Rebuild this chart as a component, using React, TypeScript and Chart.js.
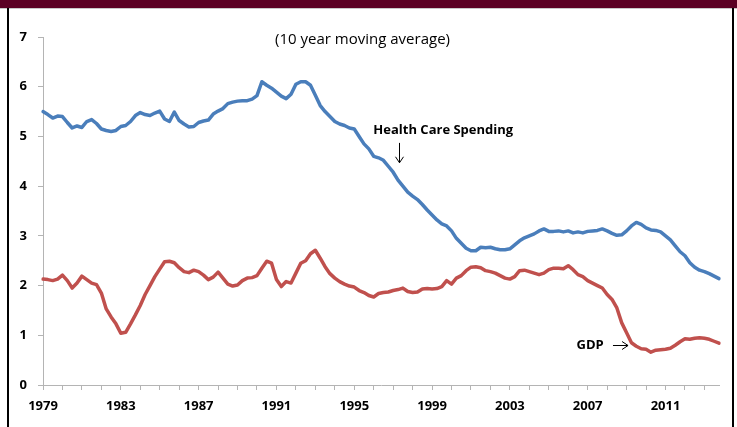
import React, { useEffect, useRef } from 'react';
import { Chart, registerables } from 'chart.js';

Chart.register(...registerables);

const START_YEAR = 1979;
const END_YEAR = 2013;
const CATEGORIES: string[] = [];
for (let y = START_YEAR; y <= END_YEAR; y++) {
  for (let q = 1; q <= 4; q++) CATEGORIES.push(`${y}Q${q}`);
}

const TICK_LABELS = ['1979', '1983', '1987', '1991', '1995', '1999', '2003', '2007', '2011'];
const Y_TICKS = [0, 1, 2, 3, 4, 5, 6, 7];

const HEALTH_CARE = [
  5.50, 5.44, 5.37, 5.41, 5.40, 5.28, 5.17, 5.21, 5.18, 5.30,
  5.34, 5.26, 5.15, 5.12, 5.10, 5.12, 5.20, 5.22, 5.30, 5.42,
  5.48, 5.44, 5.42, 5.47, 5.51, 5.35, 5.30, 5.49, 5.32, 5.25,
  5.19, 5.20, 5.28, 5.31, 5.33, 5.45, 5.51, 5.56, 5.66, 5.69,
  5.71, 5.72, 5.72, 5.75, 5.82, 6.10, 6.03, 5.97, 5.89, 5.81,
  5.76, 5.85, 6.05, 6.10, 6.10, 6.03, 5.83, 5.62, 5.50, 5.40,
  5.30, 5.25, 5.22, 5.17, 5.15, 5.00, 4.85, 4.75, 4.60, 4.57,
  4.52, 4.40, 4.28, 4.12, 4.00, 3.88, 3.80, 3.73, 3.63, 3.52,
  3.42, 3.32, 3.24, 3.20, 3.10, 2.95, 2.85, 2.75, 2.70, 2.70,
  2.77, 2.76, 2.77, 2.74, 2.72, 2.72, 2.74, 2.82, 2.90, 2.96,
  3.00, 3.04, 3.10, 3.14, 3.09, 3.09, 3.10, 3.08, 3.10, 3.06,
  3.08, 3.06, 3.09, 3.10, 3.11, 3.14, 3.10, 3.05, 3.01, 3.02,
  3.10, 3.20, 3.27, 3.23, 3.16, 3.12, 3.11, 3.08, 3.00, 2.92,
  2.80, 2.68, 2.60, 2.46, 2.37, 2.31, 2.28, 2.24, 2.19, 2.14,
];

const GDP = [
  2.13, 2.12, 2.10, 2.13, 2.21, 2.10, 1.95, 2.05, 2.19, 2.12,
  2.05, 2.02, 1.85, 1.53, 1.37, 1.23, 1.04, 1.06, 1.23, 1.41,
  1.60, 1.82, 2.00, 2.18, 2.33, 2.48, 2.49, 2.46, 2.36, 2.28,
  2.26, 2.31, 2.28, 2.21, 2.12, 2.17, 2.27, 2.15, 2.03, 1.99,
  2.01, 2.10, 2.15, 2.16, 2.20, 2.35, 2.49, 2.45, 2.12, 1.98,
  2.08, 2.05, 2.25, 2.45, 2.50, 2.64, 2.71, 2.55, 2.38, 2.24,
  2.15, 2.08, 2.03, 1.99, 1.97, 1.90, 1.86, 1.80, 1.77, 1.84,
  1.86, 1.87, 1.90, 1.92, 1.95, 1.88, 1.86, 1.87, 1.93, 1.94,
  1.93, 1.94, 1.98, 2.10, 2.03, 2.15, 2.20, 2.30, 2.37, 2.38,
  2.36, 2.30, 2.28, 2.25, 2.20, 2.15, 2.13, 2.18, 2.30, 2.31,
  2.28, 2.25, 2.22, 2.25, 2.32, 2.35, 2.35, 2.34, 2.40, 2.32,
  2.22, 2.18, 2.10, 2.05, 2.00, 1.95, 1.82, 1.72, 1.55, 1.25,
  1.05, 0.85, 0.78, 0.73, 0.72, 0.66, 0.70, 0.71, 0.72, 0.74,
  0.80, 0.87, 0.93, 0.92, 0.94, 0.95, 0.94, 0.92, 0.88, 0.84,
];

const SUBTITLE = '(10 year moving average)';
const HEALTH_LABEL = 'Health Care Spending';
const GDP_LABEL = 'GDP';

const FONT = "'Open Sans', 'Liberation Sans', sans-serif";
const AXIS_COLOR = '#b4b4b4';

const annotationPlugin = {
  id: 'textNotes',
  afterDatasetsDraw(chart: any) {
    const { ctx } = chart;
    const x = chart.scales.x;
    const y = chart.scales.y;
    ctx.save();
    ctx.fillStyle = '#000';
    ctx.textAlign = 'center';
    ctx.textBaseline = 'middle';

    ctx.font = `15px ${FONT}`;
    ctx.fillText(SUBTITLE, x.getPixelForValue(65.7), y.getPixelForValue(6.94));

    ctx.font = `bold 13px ${FONT}`;
    ctx.fillText(HEALTH_LABEL, x.getPixelForValue(82.3), y.getPixelForValue(5.12));
    ctx.fillText(GDP_LABEL, x.getPixelForValue(112.5), y.getPixelForValue(0.79));

    ctx.strokeStyle = '#000';
    ctx.lineWidth = 1;
    // down arrow for health care
    const ax = Math.round(x.getPixelForValue(73.2)) + 0.5;
    const ay1 = y.getPixelForValue(4.87);
    const ay2 = y.getPixelForValue(4.47);
    ctx.beginPath();
    ctx.moveTo(ax, ay1);
    ctx.lineTo(ax, ay2);
    ctx.moveTo(ax - 4, ay2 - 6);
    ctx.lineTo(ax, ay2);
    ctx.lineTo(ax + 4, ay2 - 6);
    ctx.stroke();

    // right arrow for GDP
    const gy = Math.round(y.getPixelForValue(0.8)) + 0.5;
    const gx1 = x.getPixelForValue(117.2);
    const gx2 = x.getPixelForValue(120.3);
    ctx.beginPath();
    ctx.moveTo(gx1, gy);
    ctx.lineTo(gx2, gy);
    ctx.moveTo(gx2 - 6, gy - 4);
    ctx.lineTo(gx2, gy);
    ctx.lineTo(gx2 - 6, gy + 4);
    ctx.stroke();
    ctx.restore();
  },
};

export default function App() {
  const canvasRef = useRef<HTMLCanvasElement | null>(null);

  useEffect(() => {
    if (!canvasRef.current) return;
    const chart = new Chart(canvasRef.current, {
      type: 'line',
      data: {
        labels: CATEGORIES,
        datasets: [
          {
            label: HEALTH_LABEL,
            data: HEALTH_CARE,
            borderColor: '#4a7ebb',
            borderWidth: 3.5,
            pointRadius: 0,
            tension: 0,
            borderCapStyle: 'round',
            borderJoinStyle: 'round',
            fill: false,
          },
          {
            label: GDP_LABEL,
            data: GDP,
            borderColor: '#c0504d',
            borderWidth: 3.5,
            pointRadius: 0,
            tension: 0,
            borderCapStyle: 'round',
            borderJoinStyle: 'round',
            fill: false,
          },
        ],
      },
      options: {
        animation: false,
        responsive: true,
        maintainAspectRatio: false,
        layout: { padding: { top: 37, right: 18, bottom: 0, left: 0 } },
        plugins: {
          legend: { display: false },
          tooltip: { enabled: false },
          title: { display: false },
        },
        scales: {
          x: {
            type: 'category',
            offset: false,
            grid: {
              drawOnChartArea: false,
              drawTicks: true,
              tickLength: 5,
              color: (c: any) => (c.index % 4 === 0 ? AXIS_COLOR : 'rgba(0,0,0,0)'),
              tickColor: (c: any) => (c.index % 4 === 0 ? AXIS_COLOR : 'rgba(0,0,0,0)'),
            },
            border: { display: true, color: AXIS_COLOR, width: 1 },
            ticks: {
              autoSkip: false,
              maxRotation: 0,
              minRotation: 0,
              padding: 8,
              color: '#000',
              font: { family: FONT, size: 13, weight: 'bold' },
              callback: (_v: any, i: number) => {
                const c = CATEGORIES[i];
                if (!c || !c.endsWith('Q1')) return '';
                const yr = c.slice(0, 4);
                return TICK_LABELS.includes(yr) ? yr : '';
              },
            },
            afterFit: (s: any) => {
              s.height = 42;
            },
          },
          y: {
            min: Y_TICKS[0],
            max: Y_TICKS[Y_TICKS.length - 1],
            grid: {
              drawOnChartArea: false,
              drawTicks: true,
              tickLength: 5,
              color: AXIS_COLOR,
              tickColor: AXIS_COLOR,
            },
            border: { display: true, color: AXIS_COLOR, width: 1 },
            ticks: {
              stepSize: 1,
              padding: 11,
              color: '#000',
              font: { family: FONT, size: 13, weight: 'bold' },
            },
            afterFit: (s: any) => {
              s.width = 43;
            },
          },
        },
      },
      plugins: [annotationPlugin],
    } as any);
    return () => chart.destroy();
  }, []);

  return (
    <div
      style={{
        position: 'fixed',
        left: 0,
        top: 0,
        width: 737,
        height: 427,
        background: '#fff',
        overflow: 'hidden',
      }}
    >
      <div style={{ position: 'absolute', left: 0, top: 0, width: 737, height: 427 }}>
        <canvas ref={canvasRef} />
      </div>
      <div style={{ position: 'absolute', left: 0, top: 0, width: 737, height: 8, background: '#5b0024' }} />
      <div style={{ position: 'absolute', left: 0, top: 8, width: 737, height: 1, background: '#c8c8c8' }} />
      <div style={{ position: 'absolute', left: 7, top: 8, width: 2, height: 419, background: '#000' }} />
      <div style={{ position: 'absolute', left: 732, top: 8, width: 2, height: 419, background: '#000' }} />
    </div>
  );
}
